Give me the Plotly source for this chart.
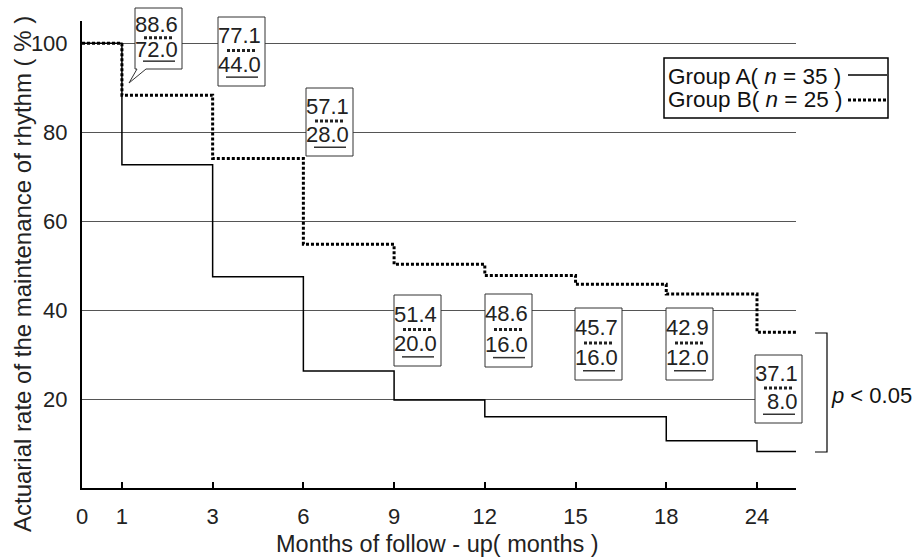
import plotly.graph_objects as go

# ---------------- data ----------------
months = [0, 1, 3, 6, 9, 12, 15, 18, 24]
group_a = [100, 72.7, 47.5, 26.3, 19.8, 16.0, 16.0, 10.6, 8.2]
group_b = [100, 88.3, 74.1, 54.8, 50.3, 47.8, 45.8, 43.6, 35.0]
label_a = ["72.0", "44.0", "28.0", "20.0", "16.0", "16.0", "12.0", "8.0"]
label_b = ["88.6", "77.1", "57.1", "51.4", "48.6", "45.7", "42.9", "37.1"]
y_ticks = [20, 40, 60, 80, 100]
legend_names = ["Group A( <i>n</i> = 35 )", "Group B( <i>n</i> = 25 )"]
p_text = "<i>p</i> < 0.05"

# ---------------- axis scale (uneven follow-up spacing) ----------------
first_gap = 0.44
pos = [0.0] + [first_gap + i for i in range(len(months) - 1)]
x_end = 7.87

W, H = 915, 559
L, R, T, B = 82, 119, 21, 71
PW, PH = W - L - R, H - T - B


def px(x):
    return (x - L) / PW


def py(y):
    return (H - B - y) / PH


ARIAL = "Liberation Sans, Arial, sans-serif"
NUM = "Liberation Sans, Arial, sans-serif"

fig = go.Figure()
fig.add_trace(go.Scatter(
    x=pos + [x_end], y=group_a + [group_a[-1]], mode="lines",
    line=dict(color="black", width=1.5, shape="hv"), showlegend=False))
fig.add_trace(go.Scatter(
    x=pos + [x_end], y=group_b + [group_b[-1]], mode="lines",
    line=dict(color="black", width=3, shape="hv", dash="3px,2px"), showlegend=False))

shapes = []
annots = []

# value boxes (left, top, height) in pixels
boxes = [(135, 8, 61), (218, 17, 69), (306, 88, 68), (394, 295, 71),
         (485, 294, 73), (575, 308, 72), (666, 308, 72), (755, 355, 68)]
BW = 47
for i, (bl, bt, bh) in enumerate(boxes):
    br, bb = bl + BW, bt + bh
    if i == 0:
        path = (f"M {px(bl)},{py(bt)} L {px(br)},{py(bt)} L {px(br)},{py(bb)} "
                f"L {px(bl+11)},{py(bb)} L {px(bl-6)},{py(bb+14)} L {px(bl+2)},{py(bb)} "
                f"L {px(bl)},{py(bb)} Z")
        shapes.append(dict(type="path", xref="paper", yref="paper", path=path,
                           line=dict(color="#333", width=1), fillcolor="white", layer="above"))
    else:
        shapes.append(dict(type="rect", xref="paper", yref="paper",
                           x0=px(bl), x1=px(br), y0=py(bt), y1=py(bb),
                           line=dict(color="#333", width=1), fillcolor="white", layer="above"))
    f = bh / 70.0
    t1, dl, t2, ul = bt + 19 * f, bt + 34 * f, bt + 48 * f, bt + 61 * f
    annots.append(dict(x=px(br - 2), y=py(t1), xref="paper", yref="paper", text=label_b[i],
                       showarrow=False, xanchor="right", yanchor="middle",
                       font=dict(family=NUM, size=22, color="#222")))
    annots.append(dict(x=px(br - 2), y=py(t2), xref="paper", yref="paper", text=label_a[i],
                       showarrow=False, xanchor="right", yanchor="middle",
                       font=dict(family=NUM, size=22, color="#222")))
    shapes.append(dict(type="line", xref="paper", yref="paper",
                       x0=px(bl + 9), x1=px(bl + 39), y0=py(dl), y1=py(dl),
                       line=dict(color="#222", width=3, dash="3px,2px"), layer="above"))
    shapes.append(dict(type="line", xref="paper", yref="paper",
                       x0=px(bl + 8), x1=px(bl + 40), y0=py(ul), y1=py(ul),
                       line=dict(color="#333", width=1.5), layer="above"))

# legend
shapes.append(dict(type="rect", xref="paper", yref="paper",
                   x0=px(664), x1=px(888), y0=py(58), y1=py(118),
                   line=dict(color="black", width=1.5), fillcolor="white", layer="above"))
for j, yy in enumerate([76, 100]):
    annots.append(dict(x=px(666), y=py(yy), xref="paper", yref="paper", text=legend_names[j],
                       showarrow=False, xanchor="left", yanchor="middle",
                       font=dict(family=ARIAL, size=22.5, color="#111")))
shapes.append(dict(type="line", xref="paper", yref="paper", x0=px(848), x1=px(887),
                   y0=py(75), y1=py(75), line=dict(color="black", width=1.5), layer="above"))
shapes.append(dict(type="line", xref="paper", yref="paper", x0=px(848), x1=px(887),
                   y0=py(100), y1=py(100), line=dict(color="black", width=3, dash="3px,2px"),
                   layer="above"))

# p bracket
shapes.append(dict(type="path", xref="paper", yref="paper",
                   path=f"M {px(815)},{py(333)} L {px(827)},{py(333)} L {px(827)},{py(452)} L {px(815)},{py(452)}",
                   line=dict(color="black", width=1.2)))
annots.append(dict(x=px(829), y=py(395), xref="paper", yref="paper", text=p_text,
                   showarrow=False, xanchor="left", yanchor="middle",
                   font=dict(family=ARIAL, size=22, color="#111")))

# axis titles
annots.append(dict(x=px(437), y=py(544), xref="paper", yref="paper",
                   text="Months of follow - up( months )", showarrow=False,
                   xanchor="center", yanchor="middle",
                   font=dict(family=ARIAL, size=23.5, color="#222")))
annots.append(dict(x=px(22), y=py(274), xref="paper", yref="paper",
                   text="Actuarial rate of the maintenance of rhythm ( % )", showarrow=False,
                   textangle=-90, xanchor="center", yanchor="middle",
                   font=dict(family=ARIAL, size=24, color="#222")))

fig.update_layout(
    width=W, height=H, margin=dict(l=L, r=R, t=T, b=B),
    paper_bgcolor="white", plot_bgcolor="white",
    shapes=shapes, annotations=annots, showlegend=False,
    xaxis=dict(range=[0, x_end], tickvals=pos, ticktext=[str(m) for m in months],
               showgrid=False, zeroline=False, showline=True, linecolor="black", linewidth=2,
               ticks="inside", ticklen=6, tickwidth=2, tickcolor="black",
               ticklabelstandoff=8,
               tickfont=dict(family=ARIAL, size=22, color="#222")),
    yaxis=dict(range=[0, 105], tickvals=y_ticks, showgrid=True, gridcolor="#555", gridwidth=1,
               zeroline=False, showline=True, linecolor="black", linewidth=2,
               ticks="", ticklabelstandoff=8,
               tickfont=dict(family=ARIAL, size=22, color="#222")),
)

fig.write_html("out.html", config={"displayModeBar": False},
               post_script="document.body.style.margin='0';document.body.style.overflow='hidden';")
